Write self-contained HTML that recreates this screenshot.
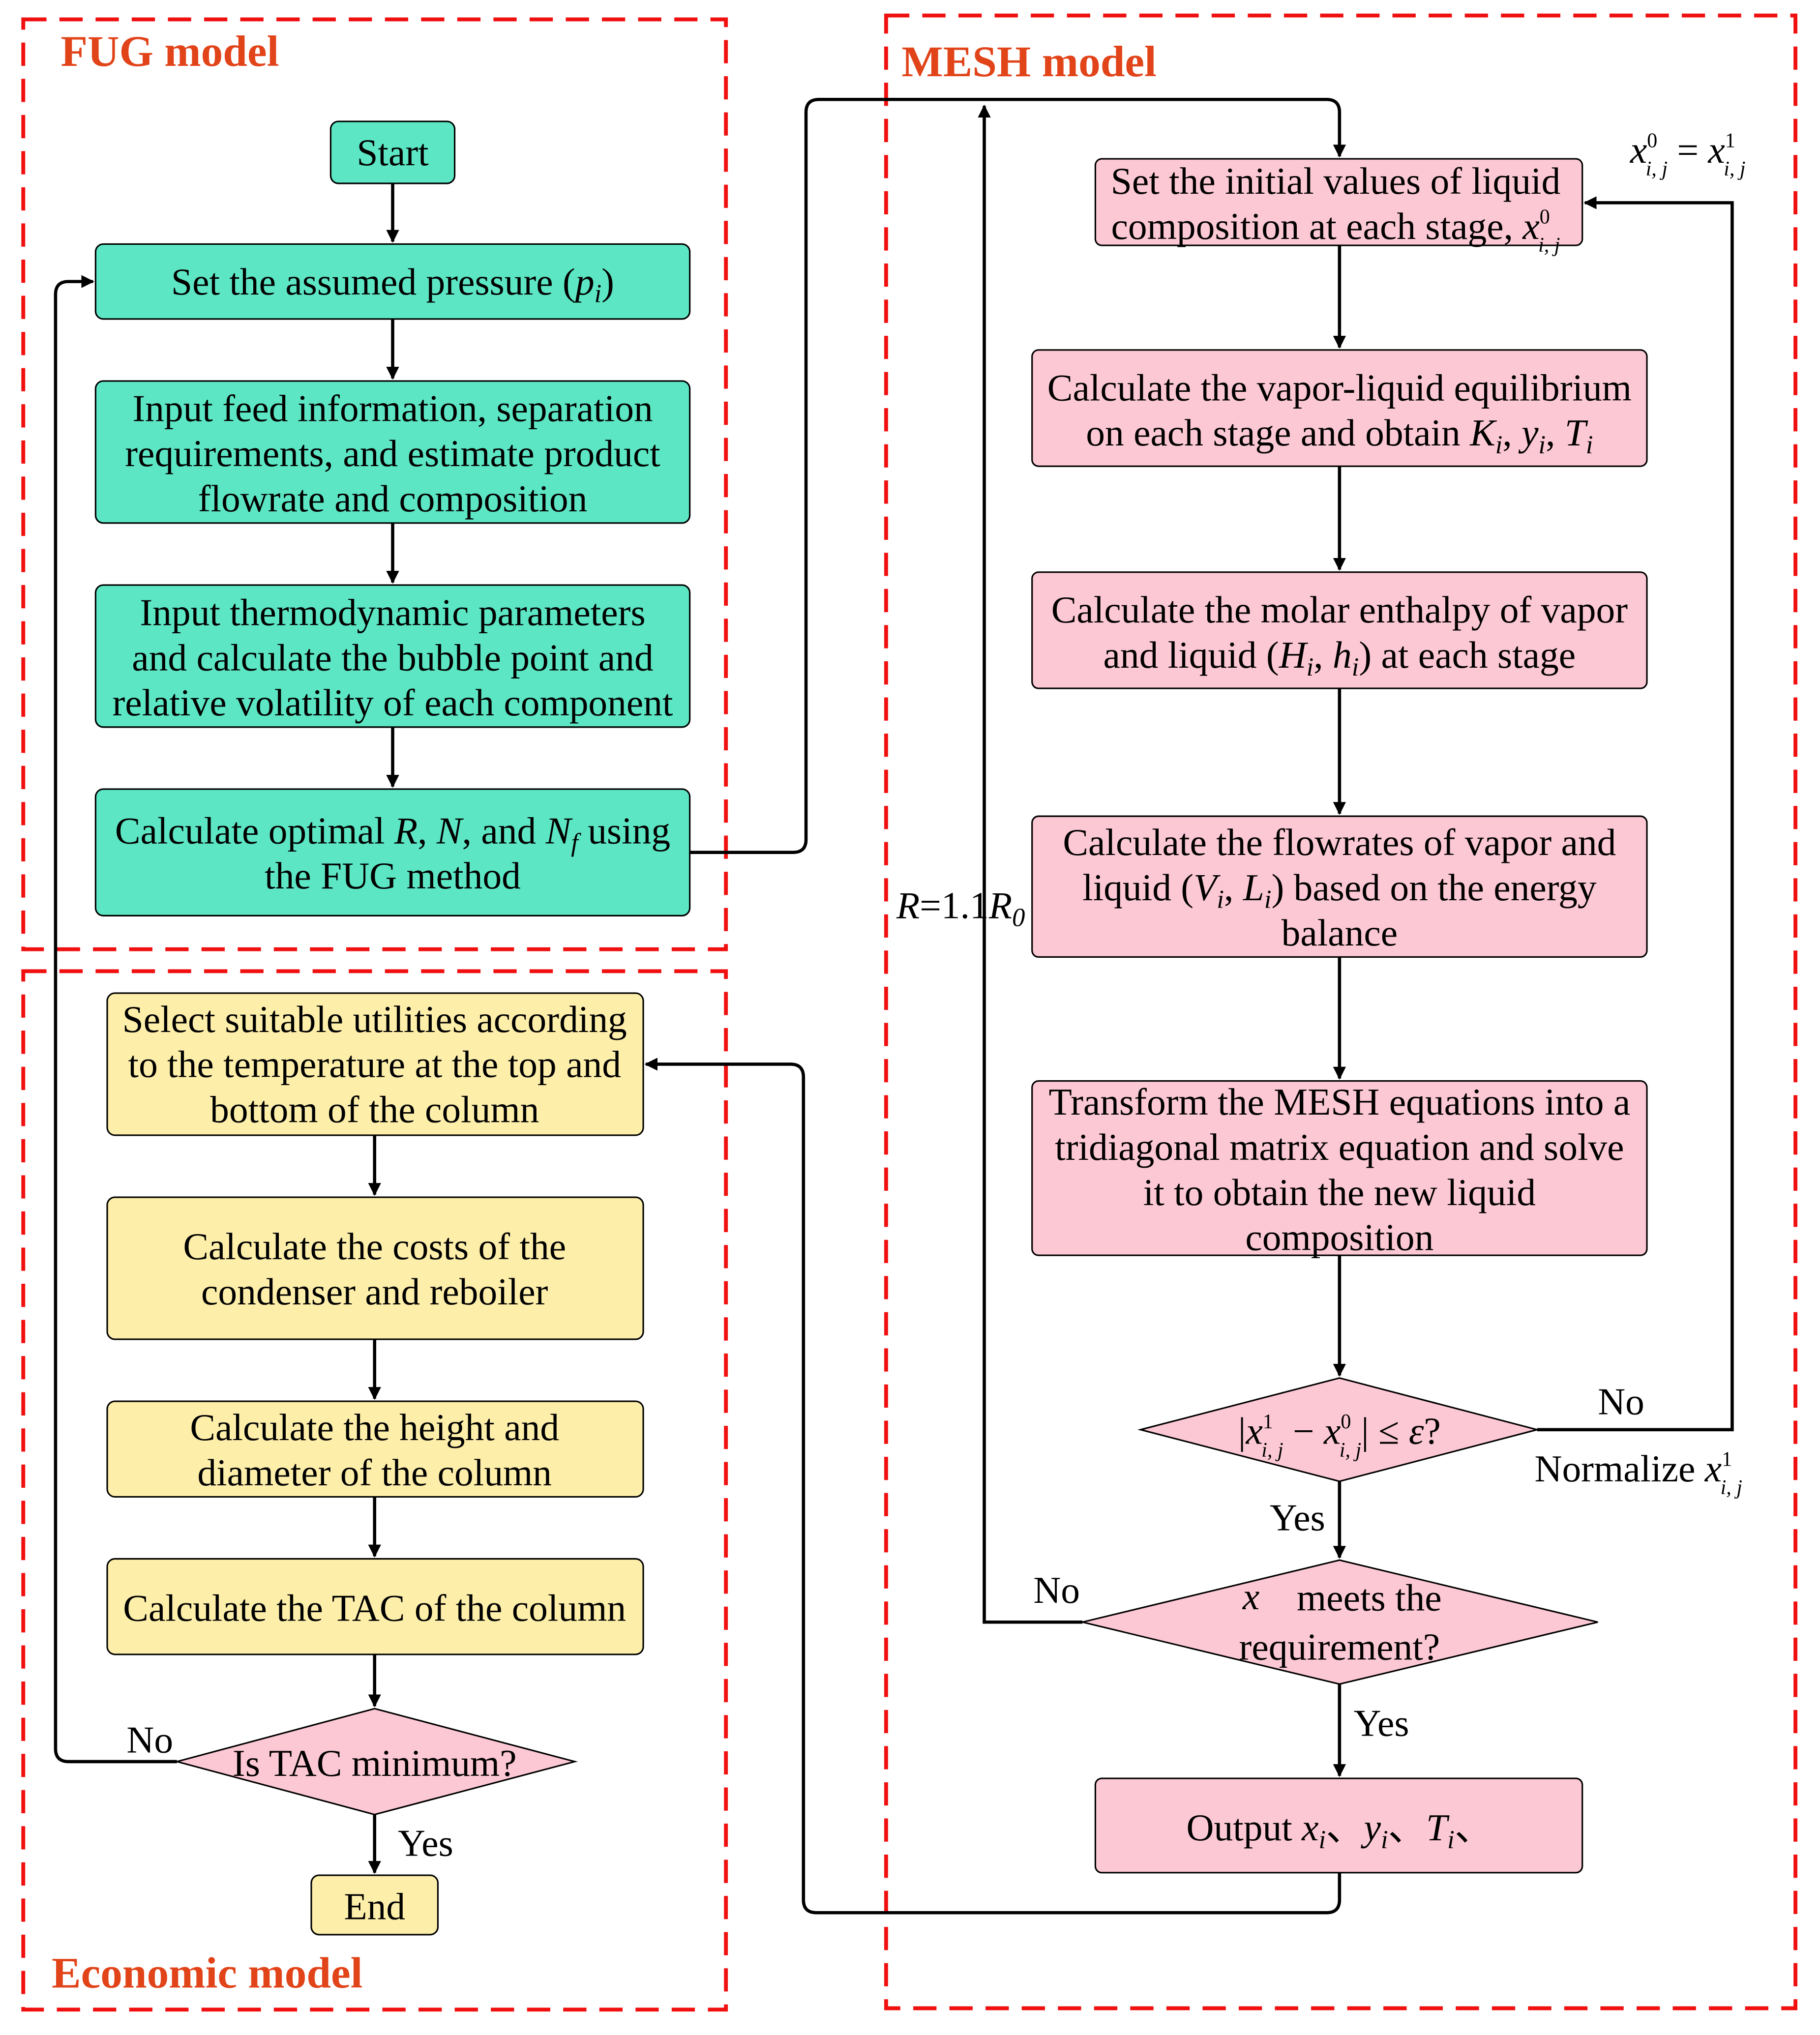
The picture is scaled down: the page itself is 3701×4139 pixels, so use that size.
<!DOCTYPE html>
<html><head><meta charset="utf-8"><style>
html,body{margin:0;padding:0;background:#fff}
svg{display:block}
text{font-family:"Liberation Serif",serif;font-size:29.5px;fill:#000}
.t{font-weight:bold;fill:#e2441a;font-size:34px}
</style></head><body>
<svg width="3701" height="4139" viewBox="0 0 1409 1575.7" preserveAspectRatio="none" xmlns="http://www.w3.org/2000/svg">
<defs><marker id="a" markerWidth="10" markerHeight="10" refX="9" refY="5" orient="auto" markerUnits="userSpaceOnUse"><path d="M0,0 L10,5 L0,10 z" fill="#000"/></marker></defs>
<g fill="none" stroke="#f01010" stroke-width="3" stroke-dasharray="18,10">
<rect x="18" y="15" width="544" height="720"/>
<rect x="686" y="12" width="704" height="1543"/>
<rect x="18" y="752" width="544" height="804"/>
</g>
<text class="t" x="47" y="51">FUG model</text>
<text class="t" x="698" y="59">MESH model</text>
<text class="t" x="40" y="1539">Economic model</text>

<g stroke="#000" stroke-width="1.2" fill="#5ce6c4">
<rect x="256" y="94" width="96" height="48" rx="6"/>
<rect x="74" y="189" width="460" height="58" rx="6"/>
<rect x="74" y="295" width="460" height="110" rx="6"/>
<rect x="74" y="453" width="460" height="110" rx="6"/>
<rect x="74" y="611" width="460" height="98" rx="6"/>
</g>
<g stroke="#000" stroke-width="1.2" fill="#fdeeaa">
<rect x="83" y="769" width="415" height="110" rx="6"/>
<rect x="83" y="927" width="415" height="110" rx="6"/>
<rect x="83" y="1085" width="415" height="74" rx="6"/>
<rect x="83" y="1207" width="415" height="74" rx="6"/>
<rect x="241" y="1452" width="98" height="46" rx="6"/>
</g>
<g stroke="#000" stroke-width="1.2" fill="#fcc8d4">
<polygon points="137,1364 290,1323 445,1364 290,1405"/>
<rect x="848" y="123" width="377" height="67" rx="5"/>
<rect x="799" y="271" width="476" height="90" rx="5"/>
<rect x="799" y="443" width="476" height="90" rx="5"/>
<rect x="799" y="632" width="476" height="109" rx="5"/>
<rect x="799" y="837" width="476" height="135" rx="5"/>
<polygon points="883,1107 1037,1067 1190,1107 1037,1147"/>
<polygon points="838,1256 1037,1208 1237,1256 1037,1304"/>
<rect x="848" y="1377" width="377" height="73" rx="5"/>
</g>

<g stroke="#000" stroke-width="2.5" fill="none" marker-end="url(#a)">
<line x1="304" y1="142" x2="304" y2="187"/>
<line x1="304" y1="247" x2="304" y2="293"/>
<line x1="304" y1="405" x2="304" y2="451"/>
<line x1="304" y1="563" x2="304" y2="609"/>
<line x1="290" y1="879" x2="290" y2="925"/>
<line x1="290" y1="1037" x2="290" y2="1083"/>
<line x1="290" y1="1159" x2="290" y2="1205"/>
<line x1="290" y1="1281" x2="290" y2="1321"/>
<line x1="290" y1="1405" x2="290" y2="1450"/>
<line x1="1037" y1="190" x2="1037" y2="269"/>
<line x1="1037" y1="361" x2="1037" y2="441"/>
<line x1="1037" y1="533" x2="1037" y2="630"/>
<line x1="1037" y1="741" x2="1037" y2="835"/>
<line x1="1037" y1="972" x2="1037" y2="1065"/>
<line x1="1037" y1="1147" x2="1037" y2="1206"/>
<line x1="1037" y1="1304" x2="1037" y2="1375"/>
<path d="M534,660 H614 Q624,660 624,650 V87 Q624,77 634,77 H1027 Q1037,77 1037,87 V121"/>
<path d="M1037,1450 V1471 Q1037,1481 1027,1481 H632 Q622,1481 622,1471 V834 Q622,824 612,824 H500"/>
<path d="M838,1256 H762 V82"/>
<path d="M1190,1107 H1341 V157 H1227"/>
<path d="M137,1364 H53 Q43,1364 43,1354 V228 Q43,218 53,218 H72"/>
</g>

<g text-anchor="middle">
<text x="304" y="128">Start</text>
<text x="304" y="228">Set the assumed pressure (<tspan font-style="italic">p<tspan font-size="20" dy="6">i</tspan></tspan><tspan dy="-6">)</tspan></text>
<text x="304" y="326">Input feed information, separation</text>
<text x="304" y="361">requirements, and estimate product</text>
<text x="304" y="396">flowrate and composition</text>
<text x="304" y="484">Input thermodynamic parameters</text>
<text x="304" y="519">and calculate the bubble point and</text>
<text x="304" y="554">relative volatility of each component</text>
<text x="304" y="653">Calculate optimal <tspan font-style="italic">R</tspan>, <tspan font-style="italic">N</tspan>, and <tspan font-style="italic">N<tspan font-size="20" dy="6">f</tspan></tspan><tspan dy="-6"> using</tspan></text>
<text x="304" y="688">the FUG method</text>
<text x="290" y="799">Select suitable utilities according</text>
<text x="290" y="834">to the temperature at the top and</text>
<text x="290" y="869">bottom of the column</text>
<text x="290" y="975">Calculate the costs of the</text>
<text x="290" y="1010">condenser and reboiler</text>
<text x="290" y="1115">Calculate the height and</text>
<text x="290" y="1150">diameter of the column</text>
<text x="290" y="1255">Calculate the TAC of the column</text>
<text x="290" y="1375">Is TAC minimum?</text>
<text x="290" y="1486">End</text>
<text x="1034" y="150">Set the initial values of liquid</text>
<text x="1034" y="185">composition at each stage, <tspan font-style="italic">x</tspan><tspan font-size="16" dy="-12">0</tspan><tspan font-size="16" font-style="italic" dx="-9" dy="22">i, j</tspan></text>
<text x="1037" y="310">Calculate the vapor-liquid equilibrium</text>
<text x="1037" y="345">on each stage and obtain <tspan font-style="italic">K<tspan font-size="20" dy="6">i</tspan></tspan><tspan dy="-6">, </tspan><tspan font-style="italic">y<tspan font-size="20" dy="6">i</tspan></tspan><tspan dy="-6">, </tspan><tspan font-style="italic">T<tspan font-size="20" dy="6">i</tspan></tspan></text>
<text x="1037" y="482">Calculate the molar enthalpy of vapor</text>
<text x="1037" y="517">and liquid (<tspan font-style="italic">H<tspan font-size="20" dy="6">i</tspan></tspan><tspan dy="-6">, </tspan><tspan font-style="italic">h<tspan font-size="20" dy="6">i</tspan></tspan><tspan dy="-6">) at each stage</tspan></text>
<text x="1037" y="662">Calculate the flowrates of vapor and</text>
<text x="1037" y="697">liquid (<tspan font-style="italic">V<tspan font-size="20" dy="6">i</tspan></tspan><tspan dy="-6">, </tspan><tspan font-style="italic">L<tspan font-size="20" dy="6">i</tspan></tspan><tspan dy="-6">) based on the energy</tspan></text>
<text x="1037" y="732">balance</text>
<text x="1037" y="863">Transform the MESH equations into a</text>
<text x="1037" y="898">tridiagonal matrix equation and solve</text>
<text x="1037" y="933">it to obtain the new liquid</text>
<text x="1037" y="968">composition</text>
<text x="1037" y="1118">|<tspan font-style="italic">x</tspan><tspan font-size="16" dy="-12">1</tspan><tspan font-size="16" font-style="italic" dx="-9" dy="22">i, j</tspan><tspan dy="-10"> − </tspan><tspan font-style="italic">x</tspan><tspan font-size="16" dy="-12">0</tspan><tspan font-size="16" font-style="italic" dx="-9" dy="22">i, j</tspan><tspan dy="-10">| ≤ </tspan><tspan font-style="italic">ε</tspan>?</text>
<text x="1060" y="1247">meets the</text>
<text x="1037" y="1285">requirement?</text>
<text x="1037" y="1425">Output <tspan font-style="italic">x<tspan font-size="20" dy="6">i</tspan></tspan><tspan dy="-6">、</tspan><tspan font-style="italic">y<tspan font-size="20" dy="6">i</tspan></tspan><tspan dy="-6">、</tspan><tspan font-style="italic">T<tspan font-size="20" dy="6">i</tspan></tspan><tspan dy="-6">、</tspan></text>
</g>
<text x="962" y="1246" font-size="16" fill="#888" font-style="italic">x</text>
<text x="98" y="1357">No</text>
<text x="308" y="1437">Yes</text>
<text x="1237" y="1095">No</text>
<text x="1188" y="1147">Normalize  <tspan font-style="italic">x</tspan><tspan font-size="16" dy="-12">1</tspan><tspan font-size="16" font-style="italic" dx="-9" dy="22">i, j</tspan></text>
<text x="983" y="1185">Yes</text>
<text x="800" y="1241">No</text>
<text x="1048" y="1344">Yes</text>
<text x="694" y="711"><tspan font-style="italic">R</tspan>=1.1<tspan font-style="italic">R<tspan font-size="20" dy="6">0</tspan></tspan></text>
<text x="1262" y="126" font-style="italic">x<tspan font-style="normal" font-size="16" dy="-12">0</tspan><tspan font-size="16" dx="-9" dy="22">i, j</tspan><tspan dy="-10" font-style="normal"> = </tspan>x<tspan font-style="normal" font-size="16" dy="-12">1</tspan><tspan font-size="16" dx="-9" dy="22">i, j</tspan></text>
</svg>
</body></html>
